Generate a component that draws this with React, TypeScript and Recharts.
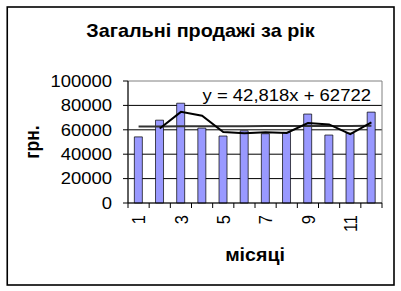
import React from 'react';
import {
  ComposedChart,
  Bar,
  Line,
  XAxis,
  YAxis,
  CartesianGrid,
  ReferenceArea,
  ReferenceDot,
} from 'recharts';

// Monthly sales (грн.)
const months = [1, 2, 3, 4, 5, 6, 7, 8, 9, 10, 11, 12];
const sales = [54200, 67900, 81800, 61400, 54900, 59200, 56800, 57900, 72900, 55700, 57300, 74500];
// Two-month moving average
const movingAvg = [null, 61100, 74700, 71500, 58200, 57100, 58000, 57400, 65500, 64400, 56400, 66000];
// Linear trend: y = 42,818x + 62722
const trendSlope = 42.818;
const trendIntercept = 62722;

const yTicks = [0, 20000, 40000, 60000, 80000, 100000];
const gridValues = [20000, 40000, 60000, 80000];
const xTickLabels = ['1', '', '3', '', '5', '', '7', '', '9', '', '11', ''];

const titleText = 'Загальні продажі за рік';
const yTitle = 'грн.';
const xTitle = 'місяці';
const equationText = 'y = 42,818x + 62722';

const data = months.map((m, i) => ({
  month: m,
  sales: sales[i],
  avg: movingAvg[i],
  trend: trendIntercept + trendSlope * m,
}));

const FONT = '"Liberation Sans", Arial, sans-serif';
const SX = 1.12; // horizontal stretch of axis lettering
const TITLE_SX = 1.1;
const TICK_FONT = 16.5;

const XTick = (props: any) => {
  const { x, y, index } = props;
  const w = typeof props.width === 'number' ? props.width : 254;
  const bw = w / months.length;
  const label = xTickLabels[index];
  return (
    <g>
      <line x1={x - bw / 2} x2={x - bw / 2} y1={y} y2={y + 5} stroke="#000" strokeWidth={1} />
      {index === months.length - 1 && (
        <line x1={x + bw / 2} x2={x + bw / 2} y1={y} y2={y + 5} stroke="#000" strokeWidth={1} />
      )}
      {label && (
        <text
          transform={`translate(${x},${y + 12}) scale(${SX},1) rotate(-90)`}
          textAnchor="end"
          dy="0.36em"
          fontSize={TICK_FONT}
          fontFamily={FONT}
          fill="#000"
        >
          {label}
        </text>
      )}
    </g>
  );
};

const YTick = (props: any) => {
  const { x, y, payload } = props;
  return (
    <text
      transform={`translate(${x},${y}) scale(${SX},1)`}
      textAnchor="end"
      dy="0.355em"
      fontSize={TICK_FONT}
      fontFamily={FONT}
      fill="#000"
    >
      {payload.value}
    </text>
  );
};

const renderYTitle = (props: any) => {
  const vb = props.viewBox || { x: 0, y: 81, width: 128, height: 122 };
  const cx = vb.x + 39;
  const cy = vb.y + vb.height / 2;
  return (
    <text
      transform={`translate(${cx},${cy}) scale(${SX},1) rotate(-90)`}
      textAnchor="middle"
      fontSize={17.5}
      fontWeight="bold"
      fontFamily={FONT}
      fill="#000"
    >
      {yTitle}
    </text>
  );
};

const renderXTitle = (props: any) => {
  const vb = props.viewBox || { x: 128, y: 203, width: 254, height: 88 };
  const cx = vb.x + vb.width / 2;
  const cy = vb.y + 58;
  return (
    <text
      transform={`translate(${cx},${cy}) scale(${SX},1)`}
      textAnchor="middle"
      fontSize={17.5}
      fontWeight="bold"
      fontFamily={FONT}
      fill="#000"
    >
      {xTitle}
    </text>
  );
};

const renderEquation = (props: any) => {
  const vb = props.viewBox || { x: 0, y: 0, width: 0, height: 0 };
  const cx = vb.x + (vb.width || 0) / 2;
  const cy = vb.y + (vb.height || 0) / 2;
  return (
    <text
      transform={`translate(${cx},${cy}) scale(${SX},1)`}
      textAnchor="middle"
      fontSize={TICK_FONT}
      fontFamily={FONT}
      fill="#000"
    >
      {equationText}
    </text>
  );
};

export default function App() {
  return (
    <div style={{ position: 'absolute', left: 0, top: 0, width: 401, height: 291, background: '#fff' }}>
      <div style={{ position: 'absolute', left: 0, top: 0 }}>
        <ComposedChart
          width={401}
          height={291}
          data={data}
          margin={{ top: 81, right: 19, bottom: 0, left: 0 }}
          barCategoryGap="30%"
        >
          <CartesianGrid horizontal vertical={false} horizontalValues={gridValues} stroke="#000" strokeWidth={1} />
          <ReferenceArea y1={0} y2={100000} fill="none" stroke="#808080" strokeWidth={1} ifOverflow="visible" />
          <XAxis
            dataKey="month"
            type="category"
            interval={0}
            height={88}
            tickLine={false}
            tickSize={0}
            tickMargin={0}
            axisLine={{ stroke: '#000', strokeWidth: 1 }}
            tick={<XTick />}
            label={renderXTitle}
          />
          <YAxis
            width={128}
            domain={[0, 100000]}
            ticks={yTicks}
            interval={0}
            tickSize={5}
            tickMargin={11}
            tickLine={{ stroke: '#000', strokeWidth: 1 }}
            axisLine={{ stroke: '#000', strokeWidth: 1 }}
            tick={<YTick />}
            label={renderYTitle}
          />
          <Bar dataKey="sales" fill="#9999ff" stroke="#000" strokeWidth={0.7} isAnimationActive={false} />
          <Line
            dataKey="trend"
            type="linear"
            stroke="#333"
            strokeWidth={2}
            dot={false}
            isAnimationActive={false}
          />
          <Line
            dataKey="avg"
            type="linear"
            stroke="#000"
            strokeWidth={2}
            dot={false}
            connectNulls={false}
            isAnimationActive={false}
          />
          <ReferenceDot x={8} y={83600} r={0} fill="none" stroke="none" label={renderEquation} />
        </ComposedChart>
      </div>
      <svg
        width={401}
        height={291}
        style={{ position: 'absolute', left: 0, top: 0, pointerEvents: 'none' }}
      >
        <rect x={7.25} y={7} width={386.75} height={278} fill="none" stroke="#000" strokeWidth={1.6} />
        <text
          transform={`translate(200.5,36.5) scale(${TITLE_SX},1)`}
          textAnchor="middle"
          fontSize={18}
          fontWeight="bold"
          fontFamily={FONT}
          fill="#000"
        >
          {titleText}
        </text>
      </svg>
    </div>
  );
}
